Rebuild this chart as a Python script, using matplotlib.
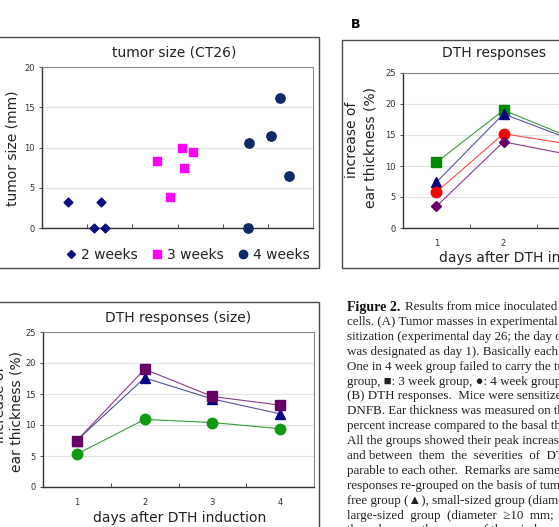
import matplotlib
matplotlib.use('Agg')
import matplotlib.pyplot as plt
from matplotlib.patches import Rectangle
from matplotlib.lines import Line2D

# panel A: tumor size (CT26), jittered x inside categories
wk2_x = [0.58, 1.15, 1.39, 1.31]
wk2_y = [3.2, 0.0, 0.0, 3.2]
wk3_x = [2.55, 2.83, 3.11, 3.14, 3.34]
wk3_y = [8.3, 3.9, 10.0, 7.4, 9.4]
wk4_x = [4.58, 4.57, 5.06, 5.28, 5.46]
wk4_y = [10.5, 0.0, 11.4, 16.1, 6.4]

# panel B: DTH responses by group
days = [1, 2, 3, 4]
b_green = [10.6, 19.0, 14.6, 13.0]
b_blue = [7.4, 18.4, 14.3, 12.5]
b_red = [5.8, 15.2, 13.5, 11.5]
b_purple = [3.5, 13.9, 11.8, 10.5]

# panel C: DTH responses (size)
c_purple = [7.5, 19.0, 14.6, 13.2]
c_blue = [7.5, 17.6, 14.2, 11.8]
c_green = [5.3, 10.9, 10.4, 9.4]

caption = [
    "cells. (A) Tumor masses in experimental groups at",
    "sitization (experimental day 26; the day of sen-",
    "was designated as day 1). Basically each group",
    "One in 4 week group failed to carry the tumor.",
    "group, \u25a0: 3 week group, \u25cf: 4 week group.",
    "(B) DTH responses.  Mice were sensitized with",
    "DNFB. Ear thickness was measured on the days",
    "percent increase compared to the basal thickness",
    "All the groups showed their peak increase on day",
    "and between  them  the  severities  of  DTH  were",
    "parable to each other.  Remarks are same as in",
    "responses re-grouped on the basis of tumor size",
    "free group (\u25b2), small-sized group (diameter <10",
    "large-sized  group  (diameter  \u226510  mm;  \u25cf).",
    "the values are the means of three independent",
]

W, H = 559, 527
fig = plt.figure(figsize=(W / 100, H / 100), dpi=100)
sans = 'DejaVu Sans'


def px_axes(l, t, r, b):
    return fig.add_axes([l / W, 1 - b / H, (r - l) / W, (b - t) / H])


def frame(l, t, r, b):
    fig.add_artist(Rectangle((l / W, 1 - b / H), (r - l) / W, (b - t) / H,
                             transform=fig.transFigure, fill=False,
                             ec='#4a4a4a', lw=1.0))


def ftext(x, y, s, **kw):
    return fig.text(x / W, 1 - y / H, s, **kw)


def style_axes(ax, ymax):
    ax.set_ylim(0, ymax)
    ax.set_yticks(range(0, ymax + 1, 5))
    ax.yaxis.grid(True, color='#e2e2e2', lw=0.8)
    ax.set_axisbelow(True)
    for s in ['top', 'right']:
        ax.spines[s].set_color('#8a8a8a')
        ax.spines[s].set_linewidth(0.8)
    for s in ['left', 'bottom']:
        ax.spines[s].set_color('#333333')
        ax.spines[s].set_linewidth(1.0)
    ax.tick_params(axis='y', length=2, width=0.6, pad=3, labelsize=6,
                   colors='#333333')


# ---------- panel A ----------
frame(-5, 37, 319, 268)
axA = px_axes(42, 67, 313, 228)
style_axes(axA, 20)
axA.set_xlim(0, 6)
axA.set_xticks([1, 2, 3, 4, 5])
axA.set_xticklabels([])
axA.tick_params(axis='x', direction='in', length=3, width=0.6, colors='#333333')
axA.scatter(wk2_x, wk2_y, marker='D', s=20, color='#0b0b80', zorder=3, clip_on=False)
axA.scatter(wk3_x, wk3_y, marker='s', s=40, color='#ff00ff', zorder=3, clip_on=False)
axA.scatter(wk4_x, wk4_y, marker='o', s=45, color='#0c2a6a', zorder=3, clip_on=False)
ftext(174, 52, 'tumor size (CT26)', ha='center', va='center', fontsize=10,
      family=sans, color='#222222')
ftext(13, 148, 'tumor size (mm)', ha='center', va='center', rotation=90,
      fontsize=10, family=sans, color='#222222')
handles = [Line2D([], [], ls='', marker='D', ms=4, color='#0b0b80'),
           Line2D([], [], ls='', marker='s', ms=6, color='#ff00ff'),
           Line2D([], [], ls='', marker='o', ms=6, color='#0c2a6a')]
fig.legend(handles, ['2 weeks', '3 weeks', '4 weeks'], ncol=3, frameon=False,
           loc='center', bbox_to_anchor=(187 / W, 1 - 255 / H),
           prop={'family': sans, 'size': 10}, handletextpad=0.2,
           columnspacing=0.9, handlelength=1.0, labelcolor='#222222')

# ---------- panel B ----------
frame(342, 40, 700, 268)
ftext(356, 25, 'B', ha='center', va='center', fontsize=9, fontweight='bold',
      family=sans)
axB = px_axes(403, 73, 671, 228)
style_axes(axB, 25)
axB.set_xlim(0.5, 4.5)
axB.set_xticks(days)
axB.set_xticks([1.5, 2.5, 3.5], minor=True)
axB.tick_params(axis='x', which='major', length=0, pad=8, labelsize=6,
                colors='#333333')
axB.tick_params(axis='x', which='minor', direction='in', length=3, width=0.6,
                colors='#333333')
axB.plot(days, b_green, color='#3c9a3c', lw=0.8, marker='s', ms=6.5,
         mfc='#008a00', mec='#008a00', clip_on=False)
axB.plot(days, b_blue, color='#5555a5', lw=0.8, marker='^', ms=7,
         mfc='#000080', mec='#000080', clip_on=False)
axB.plot(days, b_red, color='#ff4a4a', lw=0.8, marker='o', ms=7.5,
         mfc='#ff0000', mec='#ff0000', clip_on=False)
axB.plot(days, b_purple, color='#8a3a8a', lw=0.8, marker='D', ms=5,
         mfc='#660066', mec='#660066', clip_on=False)
ftext(494, 53, 'DTH responses', ha='center', va='center', fontsize=10,
      family=sans, color='#222222')
ftext(352, 140, 'increase of', ha='center', va='center', rotation=90,
      fontsize=10, family=sans, color='#222222')
ftext(370, 147, 'ear thickness (%)', ha='center', va='center', rotation=90,
      fontsize=10, family=sans, color='#222222')
ftext(526, 258, 'days after DTH induction', ha='center', va='center',
      fontsize=10, family=sans, color='#222222')

# ---------- panel C ----------
frame(-10, 302, 319, 560)
axC = px_axes(43, 332, 314, 487)
style_axes(axC, 25)
axC.set_xlim(0.5, 4.5)
axC.set_xticks(days)
axC.set_xticks([1.5, 2.5, 3.5], minor=True)
axC.tick_params(axis='x', which='major', length=0, pad=8, labelsize=6,
                colors='#333333')
axC.tick_params(axis='x', which='minor', direction='in', length=3, width=0.6,
                colors='#333333')
axC.plot(days, c_green, color='#3a9a3a', lw=0.8, marker='o', ms=7.5,
         mfc='#109a10', mec='#109a10', clip_on=False)
axC.plot(days, c_blue, color='#5050a0', lw=0.8, marker='^', ms=7,
         mfc='#000080', mec='#000080', clip_on=False)
axC.plot(days, c_purple, color='#8a3a8a', lw=0.8, marker='s', ms=6.5,
         mfc='#660066', mec='#660066', clip_on=False)
ftext(178, 318, 'DTH responses (size)', ha='center', va='center', fontsize=10,
      family=sans, color='#222222')
ftext(0, 405, 'increase of', ha='center', va='center', rotation=90,
      fontsize=10, family=sans, color='#222222')
ftext(17, 412, 'ear thickness (%)', ha='center', va='center', rotation=90,
      fontsize=10, family=sans, color='#222222')
ftext(180, 518, 'days after DTH induction', ha='center', va='center',
      fontsize=10, family=sans, color='#222222')

# ---------- caption ----------
serif = ['Liberation Serif', 'DejaVu Serif']
x0, y0, step = 347, 307, 14.9
t = ftext(x0, y0, 'Figure 2.', ha='left', va='center', fontsize=10,
          fontweight='bold', family=serif, color='#111111')
fig.canvas.draw()
bb = t.get_window_extent()
ftext(bb.x1 + 5, y0, 'Results from mice inoculated with CT26', ha='left',
      va='center', fontsize=9.4, family=serif, color='#222222')
for i, line in enumerate(caption):
    ftext(x0, y0 + step * (i + 1), line, ha='left', va='center', fontsize=9.4,
          family=serif + ['DejaVu Sans'], color='#222222')

fig.savefig('out.png', dpi=100)
